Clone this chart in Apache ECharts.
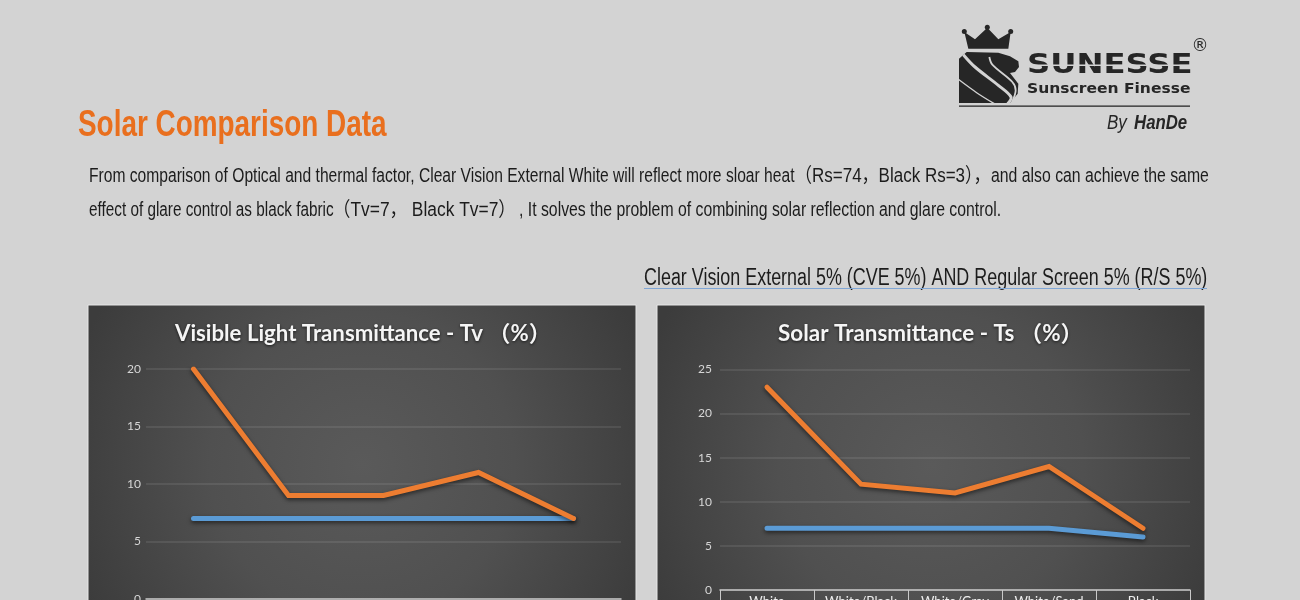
<!DOCTYPE html>
<html><head><meta charset="utf-8">
<style>html,body{margin:0;padding:0;background:#d3d3d3;overflow:hidden}#c{width:1300px;height:600px}</style>
<script src="https://cdn.jsdelivr.net/npm/echarts@6/dist/echarts.min.js"></script>
</head><body><div id="c"></div>
<script>
const categories = ['White','White/Black','White/Gray','White/Sand','Black'];
const tvCVE = [7,7,7,7,7];
const tvRS = [20,9,9,11,7];
const tsCVE = [7,7,7,7,6];
const tsRS = [23,12,11,14,7];
const heading = 'Solar Comparison Data';
const bodyLine1 = ['From comparison of Optical and thermal factor, Clear Vision External White will reflect more sloar heat','（Rs=74，Black Rs=3），','and also can achieve the same'];
const bodyLine2 = ['effect of glare control as black fabric','（Tv=7， Black Tv=7）',', It solves the problem of combining solar reflection and glare control.'];
const subHeading = 'Clear Vision External 5% (CVE 5%) AND Regular Screen 5% (R/S 5%)';
const chartTitles = ['Visible Light Transmittance - Tv （%）','Solar Transmittance - Ts （%）'];

const sans = '"Liberation Sans","Noto Sans CJK SC",sans-serif';
const chartFont = 'Lato,"Noto Sans CJK SC",sans-serif';
const BG = '#d3d3d3', INK = '#1c1c1c', LOGO = '#262626';

function panel(x){
  return {type:'rect',z:-10,shape:{x:x,y:305,width:548,height:320},
    style:{fill:{type:'radial',x:0.5,y:0.5,r:0.95,colorStops:[{offset:0,color:'#5a5a5a'},{offset:0.5,color:'#505050'},{offset:1,color:'#3c3c3c'}]},stroke:'#e6e6e6',lineWidth:1}};
}
function txt(x,y,text,font,fill,scaleX,styleExtra){
  return {type:'text',z:5,x:x,y:y,originX:0,originY:0,scaleX:scaleX||1,scaleY:1,
    style:Object.assign({text:text,font:font,fill:fill,verticalAlign:'middle'},styleExtra||{})};
}
function axisPair(i,max,showLabels){
  return {
    x:{type:'category',gridIndex:i,data:categories,boundaryGap:true,
      axisLine:{show:true,lineStyle:{color:'#c9c9c9',width:1.5}},
      axisTick:{show:showLabels,length:24,alignWithLabel:false,lineStyle:{color:'#c9c9c9',width:1}},
      axisLabel:{show:showLabels,interval:0,margin:5,color:'#eeeeee',fontFamily:chartFont,fontSize:13}},
    y:{type:'value',gridIndex:i,min:0,max:max,interval:5,
      axisLine:{show:false},axisTick:{show:false},
      axisLabel:{color:'#d6d6d6',fontFamily:chartFont,fontSize:12,margin:i?8:5},
      splitLine:{lineStyle:{color:'rgba(255,255,255,0.11)',width:1.5}}}
  };
}
function line(name,data,color,i){
  return {type:'line',name:name,xAxisIndex:i,yAxisIndex:i,data:data,symbol:'none',z:3,
    lineStyle:{color:color,width:5,cap:'round',join:'miter',shadowColor:'rgba(0,0,0,0.55)',shadowBlur:4,shadowOffsetY:2},
    emphasis:{disabled:true}};
}
const a0 = axisPair(0,20,false), a1 = axisPair(1,25,true);

const lz = (a)=>a.map(p=>[955+p[0]/3,22+p[1]/3]);
const stripe = (pts,w)=>({type:'polyline',z:6,shape:{points:lz(pts),smooth:0.35},style:{stroke:BG,fill:null,lineWidth:w,lineCap:'butt'}});
const logo = [
  {type:'polygon',z:5,shape:{points:lz([[40,80],[28,30],[60,52],[97,17],[130,52],[167,30],[160,80]])},style:{fill:LOGO}},
  {type:'circle',z:5,shape:{cx:964.3,cy:31.5,r:2.5},style:{fill:LOGO}},
  {type:'circle',z:5,shape:{cx:987.3,cy:27.2,r:2.5},style:{fill:LOGO}},
  {type:'circle',z:5,shape:{cx:1010.7,cy:31.5,r:2.5},style:{fill:LOGO}},
  {type:'polygon',z:5,shape:{points:lz([[35,90],[130,92],[165,103],[190,118],[192,135],[180,150],[165,153],[190,185],[188,215],[165,243],[12,243],[12,110]])},style:{fill:LOGO}},
  stripe([[25,98],[60,135],[130,190],[168,225],[158,245]],3),
  stripe([[103,105],[112,128],[172,180],[182,205],[172,238]],1.8),
  stripe([[10,172],[65,212],[118,245]],1.3),
  txt(1027,65.5,'SUNESSE','900 27px "DejaVu Sans",sans-serif',LOGO,1.195),
  {type:'rect',z:6,shape:{x:1027,y:64.6,width:165,height:1.3},style:{fill:BG}},
  txt(1027,89,'Sunscreen Finesse','bold 13.5px "DejaVu Sans",sans-serif',LOGO,1.15),
  {type:'rect',z:5,shape:{x:959,y:105.5,width:231,height:1.3},style:{fill:'#222'}},
  txt(1107,123,'By','italic 20px "Liberation Sans",sans-serif',LOGO,0.85),
  txt(1134,123,'HanDe','italic 900 20px "Liberation Sans",sans-serif',LOGO,0.84),
  txt(1191.5,47,'®','17px "DejaVu Sans",sans-serif',LOGO)
];

const titleStyle = {textShadowColor:'rgba(0,0,0,0.7)',textShadowBlur:3,textShadowOffsetY:1};
const option = {
  animation:false,
  backgroundColor:BG,
  grid:[{left:146,top:369,width:475,height:230,outerBoundsMode:'none'},{left:720,top:369.5,width:470,height:220.5,outerBoundsMode:'none'}],
  xAxis:[a0.x,a1.x],
  yAxis:[a0.y,a1.y],
  series:[
    line('CVE 5%',tvCVE,'#5b9bd5',0),
    line('R/S 5%',tvRS,'#ed7d31',0),
    line('CVE 5%',tsCVE,'#5b9bd5',1),
    line('R/S 5%',tsRS,'#ed7d31',1)
  ],
  graphic:{elements:[
    panel(88),panel(657),
    txt(78,126,heading,'bold 36px "Liberation Sans",sans-serif','#e96f1e',0.775),
    txt(89,176,bodyLine1[0],'20px '+sans,INK,0.781),
    txt(795,176,bodyLine1[1],'20px '+sans,INK,0.85),
    txt(991,176,bodyLine1[2],'20px '+sans,INK,0.79),
    txt(89,210,bodyLine2[0],'20px '+sans,INK,0.765),
    txt(333,210,bodyLine2[1],'20px '+sans,INK,0.87),
    txt(519,210,bodyLine2[2],'20px '+sans,INK,0.79),
    txt(644,279,subHeading,'23px '+sans,INK,0.779),
    {type:'rect',z:5,shape:{x:644,y:288,width:563,height:1},style:{fill:'#7fa6d6'}},
    txt(175,334,chartTitles[0],'bold 22px '+chartFont,'#f5f5f5',1.01,titleStyle),
    txt(778,334,chartTitles[1],'bold 22px '+chartFont,'#f5f5f5',1.02,titleStyle)
  ].concat(logo)}
};
echarts.init(document.getElementById('c'),null,{renderer:'canvas'}).setOption(option);
</script></body></html>
